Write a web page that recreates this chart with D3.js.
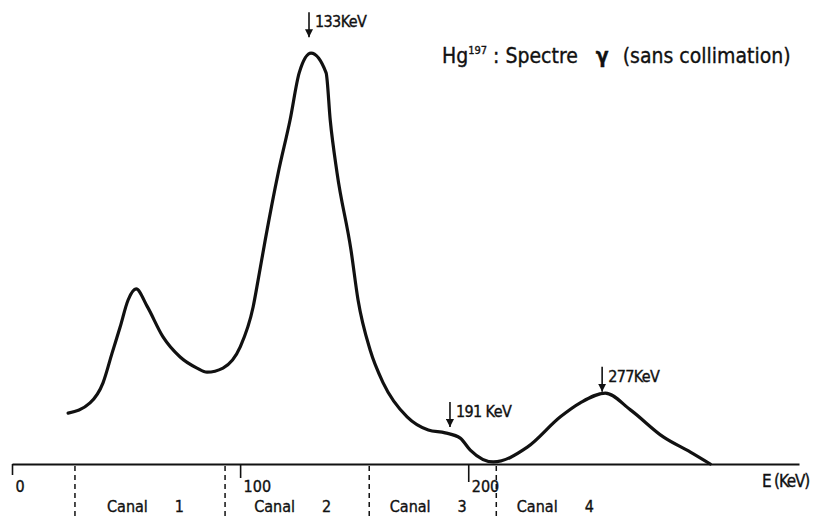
<!DOCTYPE html>
<html>
<head>
<meta charset="utf-8">
<script src="https://cdn.jsdelivr.net/npm/d3@7"></script>
<style>
  body { margin: 0; background: #fff; }
  svg { display: block; }
  text { font-family: "DejaVu Sans Condensed", "Liberation Sans Narrow", sans-serif; fill: #111; stroke: #111; stroke-width: 0.35px; }
</style>
</head>
<body>
<svg width="814" height="517"></svg>
<script>
// spectrum (energy in KeV as drawn on the axis, counts in arbitrary units)
const energies = [24.6, 34.2, 39.9, 43.9, 47.4, 50.9, 54.4, 59.2, 66.2, 73.7, 81.1, 85.5, 92.5, 100, 105.7, 107.9,
  111, 116.7, 121.9, 125.9, 131.1, 137.7, 139.5, 142.5, 148.6, 151.7, 157.0, 162.7,
  173.2, 182.5, 189.9, 196.5, 200.9, 211.0, 225.9, 240.4, 249.1, 260.1, 271.1, 285.5, 297.4, 306.1];
const counts = [12.4, 14.9, 19.8, 27.1, 33.4, 40.0, 42.7, 38.5, 31.0, 26.1, 23.4, 22.4, 23.4, 28.5, 38.3, 44.9,
  54.6, 71.0, 83.9, 95.4, 100.2, 95.4, 83.9, 71.0, 52.2, 40.0, 27.8, 19.8,
  11.5, 8.3, 7.6, 6.3, 3.4, 0.5, 4.1, 11.5, 14.9, 17.3, 13.2, 6.6, 2.9, 0];

const tickValues = [0, 100, 200];
const channelBounds = [27.6, 93.4, 156.6, 212.3];
const channelNames = ["1", "2", "3", "4"];

const markerEnergies = [130.2, 192.0, 258.7];
const markerTips = [104.1, 9.0, 17.6];
const markerLabels = ["133KeV", "191 KeV", "277KeV"];

var svg = d3.select("svg"),
  width = +svg.attr("width"),
  height = +svg.attr("height");

var x = d3.scaleLinear().domain([0, 345]).range([12, 799]);
var y = d3.scaleLinear().domain([0, 100]).range([464, 54]);

svg.append("defs").append("marker")
  .attr("id", "arrow")
  .attr("viewBox", "0 0 10 10")
  .attr("refX", 10).attr("refY", 5)
  .attr("markerWidth", 8).attr("markerHeight", 8)
  .attr("markerUnits", "userSpaceOnUse")
  .attr("orient", "auto")
  .append("path")
  .attr("d", "M0,0L10,5L0,10z")
  .attr("fill", "#111");

// x axis: long line, ticks hanging down, labels to the right of each tick
var axis = svg.append("g")
  .attr("transform", "translate(0,464)")
  .call(d3.axisBottom(x).tickValues(tickValues).tickSizeInner(12).tickSizeOuter(0).tickFormat(d3.format("d")));

axis.select(".domain").attr("stroke", "#111").attr("stroke-width", 2);
axis.selectAll(".tick line").attr("stroke", "#111").attr("stroke-width", 1.6)
  .attr("y2", (d, i) => [11, 14, 18][i]);
axis.selectAll(".tick text")
  .attr("text-anchor", "start")
  .attr("x", 3).attr("y", 28).attr("dy", 0)
  .style("font-size", "16px")
  .attr("fill", "#111");

svg.append("text")
  .attr("x", 762).attr("y", 487)
  .style("font-size", "17px")
  .style("letter-spacing", "-1.2px")
  .text("E (KeV)");

// channel boundaries
svg.append("g").selectAll("line")
  .data(channelBounds)
  .join("line")
  .attr("x1", d => x(d)).attr("x2", d => x(d))
  .attr("y1", 466).attr("y2", height)
  .attr("stroke", "#111")
  .attr("stroke-width", 1.5)
  .attr("stroke-dasharray", "5,4");

var channelCenters = channelBounds.map(function(d, i) {
  if (i < channelBounds.length - 1) return (x(d) + x(channelBounds[i + 1])) / 2;
  return x(d) + (x(d) - x(channelBounds[i - 1])) / 2;
});

var canal = svg.append("g").selectAll("text")
  .data(channelNames)
  .join("text")
  .attr("x", (d, i) => channelCenters[i] - 43)
  .attr("y", 512)
  .style("font-size", "16px");
canal.append("tspan").text("Canal");
canal.append("tspan").attr("dx", 27).text(d => d);

// spectrum curve
var line = d3.line()
  .x(d => x(d[0]))
  .y(d => y(d[1]))
  .curve(d3.curveMonotoneX);

svg.append("path")
  .datum(energies.map((e, i) => [e, counts[i]]))
  .attr("d", line)
  .attr("fill", "none")
  .attr("stroke", "#111")
  .attr("stroke-width", 3.2)
  .attr("stroke-linecap", "round")
  .attr("stroke-linejoin", "round");

// peak markers
var marker = svg.append("g").selectAll("g")
  .data(markerEnergies)
  .join("g")
  .attr("transform", (d, i) => "translate(" + x(d) + "," + y(markerTips[i]) + ")");

marker.append("line")
  .attr("x1", 0).attr("x2", 0)
  .attr("y1", -25).attr("y2", 0)
  .attr("stroke", "#111")
  .attr("stroke-width", 1.6)
  .attr("marker-end", "url(#arrow)");

marker.append("text")
  .attr("x", 6).attr("y", -10)
  .style("font-size", "16px")
  .style("letter-spacing", "-0.6px")
  .text((d, i) => markerLabels[i]);

// title
var title = svg.append("text")
  .attr("x", 442).attr("y", 63)
  .style("font-size", "21px");
title.append("tspan").text("Hg");
title.append("tspan").attr("dy", -9).style("font-size", "11px").text("197");
title.append("tspan").attr("dy", 9).attr("dx", 6).text(": Spectre");
title.append("tspan").attr("dx", 18).style("font-weight", "bold").text("γ");
title.append("tspan").attr("dx", 14).text("(sans collimation)");
</script>
</body>
</html>
